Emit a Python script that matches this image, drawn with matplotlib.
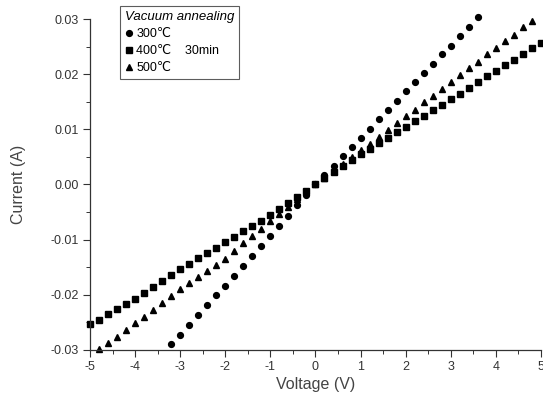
import matplotlib
matplotlib.use("Agg")
import matplotlib.pyplot as plt
from matplotlib.ticker import MultipleLocator, FormatStrFormatter

plt.rcParams["font.family"] = ["Liberation Sans", "DejaVu Sans"]
plt.rcParams["axes.unicode_minus"] = False

# 300 C anneal (circles)
v_300 = [-3.2, -3.0, -2.8, -2.6, -2.4, -2.2, -2.0, -1.8, -1.6, -1.4, -1.2, -1.0,
         -0.8, -0.6, -0.4, -0.2, 0.0, 0.2, 0.4, 0.6, 0.8, 1.0, 1.2, 1.4, 1.6,
         1.8, 2.0, 2.2, 2.4, 2.6, 2.8, 3.0, 3.2, 3.4, 3.6]
i_300 = [-0.0290, -0.0273, -0.0255, -0.0237, -0.0219, -0.0201, -0.0184, -0.0166,
         -0.0148, -0.0130, -0.0112, -0.0094, -0.0076, -0.0057, -0.0038, -0.0019,
         0.0000, 0.0017, 0.0034, 0.0051, 0.0068, 0.0085, 0.0101, 0.0118, 0.0135,
         0.0152, 0.0169, 0.0186, 0.0202, 0.0219, 0.0236, 0.0252, 0.0269, 0.0286,
         0.0303]

# 400 C anneal (squares)
v_400 = [-5.0, -4.8, -4.6, -4.4, -4.2, -4.0, -3.8, -3.6, -3.4, -3.2, -3.0, -2.8,
         -2.6, -2.4, -2.2, -2.0, -1.8, -1.6, -1.4, -1.2, -1.0, -0.8, -0.6, -0.4,
         -0.2, 0.0, 0.2, 0.4, 0.6, 0.8, 1.0, 1.2, 1.4, 1.6, 1.8, 2.0, 2.2, 2.4,
         2.6, 2.8, 3.0, 3.2, 3.4, 3.6, 3.8, 4.0, 4.2, 4.4, 4.6, 4.8, 5.0]
i_400 = [-0.0254, -0.0245, -0.0235, -0.0226, -0.0216, -0.0207, -0.0197, -0.0186,
         -0.0175, -0.0165, -0.0154, -0.0144, -0.0134, -0.0125, -0.0115, -0.0105,
         -0.0095, -0.0085, -0.0076, -0.0066, -0.0056, -0.0045, -0.0034, -0.0022,
         -0.0011, 0.0000, 0.0011, 0.0022, 0.0033, 0.0044, 0.0055, 0.0065, 0.0075,
         0.0085, 0.0095, 0.0105, 0.0115, 0.0125, 0.0135, 0.0145, 0.0155, 0.0165,
         0.0175, 0.0185, 0.0196, 0.0206, 0.0216, 0.0226, 0.0236, 0.0247, 0.0257]

# 500 C anneal (triangles)
v_500 = [-4.8, -4.6, -4.4, -4.2, -4.0, -3.8, -3.6, -3.4, -3.2, -3.0, -2.8, -2.6,
         -2.4, -2.2, -2.0, -1.8, -1.6, -1.4, -1.2, -1.0, -0.8, -0.6, -0.4, -0.2,
         0.0, 0.2, 0.4, 0.6, 0.8, 1.0, 1.2, 1.4, 1.6, 1.8, 2.0, 2.2, 2.4, 2.6,
         2.8, 3.0, 3.2, 3.4, 3.6, 3.8, 4.0, 4.2, 4.4, 4.6, 4.8]
i_500 = [-0.0299, -0.0288, -0.0276, -0.0264, -0.0252, -0.0240, -0.0228, -0.0215,
         -0.0203, -0.0190, -0.0179, -0.0168, -0.0157, -0.0146, -0.0135, -0.0121,
         -0.0107, -0.0094, -0.0080, -0.0067, -0.0053, -0.0040, -0.0027, -0.0013,
         0.0000, 0.0012, 0.0025, 0.0037, 0.0050, 0.0062, 0.0074, 0.0087, 0.0099,
         0.0112, 0.0124, 0.0136, 0.0149, 0.0161, 0.0174, 0.0186, 0.0198, 0.0211,
         0.0223, 0.0236, 0.0248, 0.0260, 0.0272, 0.0285, 0.0297]

labels = ["300\u2103", "400\u2103    30min", "500\u2103"]

fig = plt.figure(figsize=(5.43, 3.98), dpi=100)
ax = fig.add_axes([0.166, 0.121, 0.830, 0.831])

ax.plot(v_300, i_300, "o", color="black", markersize=4.2, linestyle="none",
        label=labels[0], clip_on=False)
ax.plot(v_400, i_400, "s", color="black", markersize=3.8, linestyle="none",
        label=labels[1], clip_on=False)
ax.plot(v_500, i_500, "^", color="black", markersize=5.0, linestyle="none",
        label=labels[2], clip_on=False)

ax.set_xlim(-5, 5)
ax.set_ylim(-0.03, 0.03)
ax.xaxis.set_major_locator(MultipleLocator(1))
ax.xaxis.set_minor_locator(MultipleLocator(0.5))
ax.yaxis.set_major_locator(MultipleLocator(0.01))
ax.yaxis.set_minor_locator(MultipleLocator(0.005))
ax.yaxis.set_major_formatter(FormatStrFormatter("%.2f"))

for side in ("top", "right"):
    ax.spines[side].set_visible(False)
for side in ("left", "bottom"):
    ax.spines[side].set_linewidth(0.9)
    ax.spines[side].set_color("#333333")

ax.tick_params(which="major", direction="out", length=5, width=0.8,
               labelsize=9, colors="#333333", pad=3)
ax.tick_params(which="minor", direction="out", length=3, width=0.7,
               colors="#333333")

ax.set_xlabel("Voltage (V)", fontsize=11.5, color="#444444", labelpad=3)
ax.set_ylabel("Current (A)", fontsize=11.5, color="#444444", labelpad=18)

leg = fig.legend(loc="upper left", bbox_to_anchor=(0.221, 0.985),
                 title="Vacuum annealing", fontsize=9, title_fontsize=9.5,
                 frameon=True, fancybox=False, handlelength=0.6,
                 handletextpad=0.3, borderpad=0.4, labelspacing=0.4,
                 borderaxespad=0)
leg.get_title().set_fontstyle("italic")
leg._legend_box.align = "left"
leg.get_frame().set_edgecolor("#333333")
leg.get_frame().set_linewidth(0.8)

fig.savefig("out.png", dpi=100)
